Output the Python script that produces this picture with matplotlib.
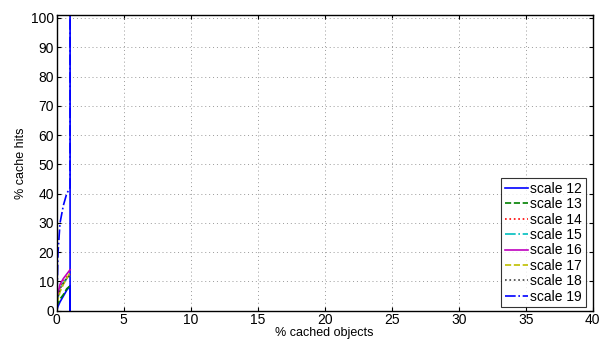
import matplotlib
matplotlib.use("Agg")
import matplotlib.pyplot as plt

plt.rcParams['font.family'] = ['Liberation Sans', 'DejaVu Sans']

# percent of cached objects (x) and percent cache hits (y) per scale
x_pts = [0, 0.1, 0.25, 0.5, 0.75, 1.0]
labels = ['scale 12', 'scale 13', 'scale 14', 'scale 15',
          'scale 16', 'scale 17', 'scale 18', 'scale 19']
hits = [
    [0, 1.5, 3, 5, 7, 8.5],
    [1.5, 2.5, 4, 5.5, 7.5, 8.5],
    [3, 5, 8, 10, 11.5, 12.5],
    [2.5, 4.5, 7, 9.5, 11, 12],
    [3, 6, 9, 11, 12.5, 14],
    [2.5, 4, 6.5, 9, 11, 13],
    [3.5, 5, 7.5, 9.5, 11, 12],
    [0, 20, 30, 36, 40, 42],
]
# the vertical jump at x = 1 for scale 12 and scale 19
jump12_x = [1.0, 1.0]
jump12_y = [0, 110]
jump19_x = [1.0, 1.0]
jump19_y = [42, 110]

colors = ['#0000ff', '#008000', '#ff0000', '#00bfbf',
          '#bf00bf', '#bfbf00', '#404040', '#0000ff']
styles = ['-', '--', ':', '-.', '-', '--', ':', '-.']

fig = plt.figure(figsize=(6.03, 3.45), dpi=100)
ax = fig.add_axes([0.094, 0.0994, 0.889, 0.857])

for i in range(len(labels)):
    xs = list(x_pts)
    ys = list(hits[i])
    if i == 0:
        xs += jump12_x
        ys += jump12_y
    if i == 7:
        xs += jump19_x
        ys += jump19_y
    ax.plot(xs, ys, color=colors[i], linestyle=styles[i], linewidth=1.2,
            label=labels[i])

ax.set_xlim(0, 40)
ax.set_ylim(0, 101)
ax.set_xticks(range(0, 41, 5))
ax.set_yticks(range(0, 101, 10))
ax.grid(True, linestyle=(0, (1, 3)), color='#999999', linewidth=0.7)
ax.tick_params(direction='in', top=True, right=True, length=3,
               labelsize=10, pad=2)
for s in ax.spines.values():
    s.set_linewidth(1.0)
ax.set_xlabel('% cached objects', fontsize=9, labelpad=0)
ax.set_ylabel('% cache hits', fontsize=9, labelpad=3)

leg = ax.legend(loc='lower right', bbox_to_anchor=(0.987, 0.0125),
                fontsize=10, frameon=True, fancybox=False,
                edgecolor='black', borderaxespad=0, handlelength=1.7,
                handletextpad=0.15, labelspacing=0.1, borderpad=0.25)
leg.get_frame().set_linewidth(0.8)

fig.savefig('out.png', dpi=100)
